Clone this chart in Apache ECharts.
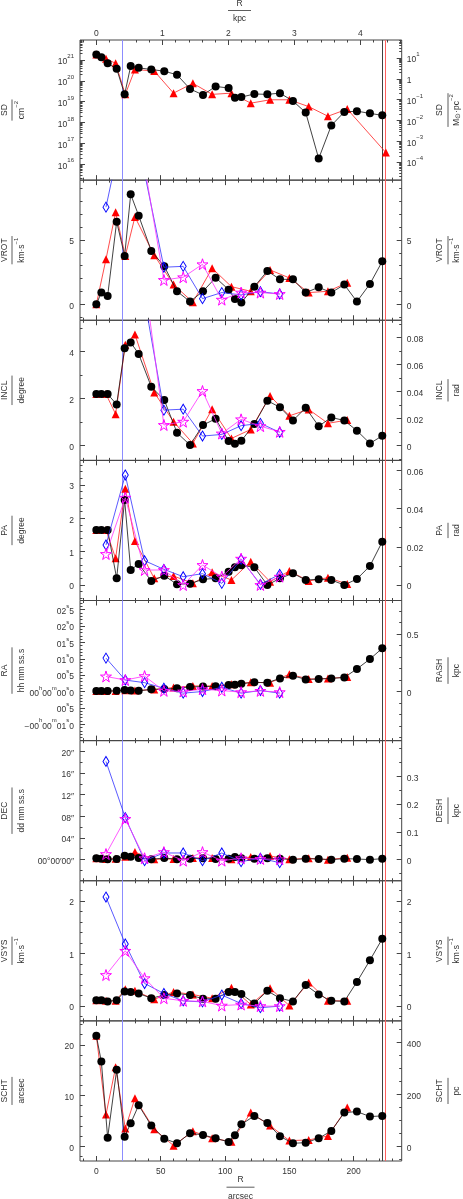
<!DOCTYPE html>
<html><head><meta charset="utf-8">
<script src="https://cdn.jsdelivr.net/npm/echarts@6/dist/echarts.min.js"></script>
<style>html,body{margin:0;padding:0;background:#fff}#c{width:463px;height:1199px}</style>
</head><body><div id="c"></div><script>
// ---------------- DATA ----------------
const blackR = [0,3.9,8.8,15.8,22,26.7,32.9,42.7,52.8,62.7,72.8,82.9,92.7,102.8,107.7,112.7,122.8,132.9,142.7,152.8,162.7,172.8,182.6,192.7,202.5,212.6,222.2];
const redR   = [0,7.5,15,22.5,30,45,60,75,90,105,120,135,150,165,180,195,225];
const ringR  = [7.5,22.5,37.5,52.5,67.5,82.5,97.5,112.5,127.5,142.5];
const markerR = [20.2, 222.2, 224.9];

const sdBlack = [1.86e21,1.35e21,6.9e20,3.8e20,2.24e19,5.1e20,4.2e20,3.5e20,2.9e20,1.95e20,4.1e19,2.1e19,5.4e19,4.5e19,1.55e19,1.66e19,2.34e19,2.24e19,2.57e19,1.07e19,3.0e18,1.86e16,7.2e17,3.2e18,3.5e18,2.75e18,2.2e18];
const sdRed   = [1.86e21,1.15e21,6.9e20,2.24e19,3.5e20,2.95e20,2.57e19,7.6e19,2.24e19,2.57e19,8.5e18,1.23e19,1.23e19,5.8e18,2.0e18,4.4e18,3.6e16];

const vrotBlack = [0,0.91,0.65,6.42,3.76,8.55,6.89,4.15,2.95,1.01,0.21,1.01,2.07,1.14,0.41,0.13,1.37,2.59,1.94,1.94,0.91,1.32,0.91,1.53,0.21,1.58,3.34];
const vrotRed   = [0,3.5,7.15,3.76,6.79,3.81,1.53,0.16,2.8,1.37,1.01,2.67,2.05,0.91,1.01,1.68,null];
const vrotBlue  = [7.55,14.6,10.2,2.88,2.95,0.44,0.91,0.73,0.98,0.8];
const vrotMag   = [13,16,10.7,1.89,2.1,3.11,0.36,0.91,0.91,0.8];

const inclBlack = [2.19,2.19,2.19,1.75,4.13,4.38,3.89,2.5,1.94,0.55,0.03,0.88,1.14,0.2,0.08,0.21,0.92,1.91,1.63,1.07,1.61,0.83,1.2,1.07,0.64,0.1,0.42];
const inclRed   = [2.19,2.19,1.34,4.28,4.72,2.26,1.02,0.1,1.55,0.31,0.69,2.11,1.27,1.54,0.95,1.09,null];
const inclBlue  = [8,9,6.2,1.51,1.55,0.41,0.48,0.85,0.95,0.57];
const inclMag   = [8,9,7.05,0.88,1.02,2.32,0.52,1.12,0.83,0.59];

const paBlack = [1.65,1.65,1.65,0.2,2.55,0.45,0.63,0.12,0.28,0.02,0.04,0.17,0.2,0.4,0.53,0.59,0.53,0,0.2,0.35,0.15,0.17,0.15,0,0.18,0.57,1.3];
const paRed   = [1.65,1.65,0.8,2.89,1.32,0.2,0.27,0.05,0.38,0.15,0.7,0.1,0.42,0.12,0.22,0.03,null];
const paBlue  = [1.2,3.3,0.73,0.47,0.25,0.34,0.05,0.77,0.02,0.32];
const paMag   = [0.93,2.62,0.45,0.45,0.0,0.6,0.25,0.79,0.0,0.25];

const raBlack = [0.015,0.015,0.015,0.02,0.046,0.03,0.02,0.066,0.076,0.097,0.14,0.15,0.16,0.2,0.21,0.24,0.28,0.27,0.4,0.48,0.37,0.38,0.4,0.43,0.69,0.99,1.32];
const raRed   = [0.015,0.015,0.015,0.04,0.03,0.06,0.12,0.17,0.17,0.22,0.28,0.27,0.53,0.38,0.4,0.44,null];
const raBlue  = [1.02,0.35,0.27,0.1,-0.05,0.0,0.13,-0.05,0.03,-0.05];
const raMag   = [0.46,0.35,0.47,0.02,0.0,0.07,0.03,-0.02,0.02,-0.02];

const decBlack = [0.22,0.15,0.03,0.09,0.71,0.52,0.28,0.03,0.28,0.03,0.15,0.22,0.09,0.15,0.46,0.22,0.15,0.22,0.15,-0.03,0.15,0.09,-0.03,0.15,0.09,-0.03,0.15];
const decRed   = [0.22,0.1,0.15,0.52,1.36,0.03,0.09,0.28,0.28,0.03,0.46,0.65,0.03,0.22,-0.03,0.34,null];
const decBlue  = [18.15,7.75,-0.22,1.2,1.2,-0.22,1.2,-0.4,0.22,-0.6];
const decMag   = [1.0,7.5,0.22,1.36,-0.22,1.36,-0.22,0.22,0.09,0.03];

const vsysBlack = [0.11,0.11,0.09,0.11,0.28,0.27,0.24,0.15,0.21,0.24,0.21,0.14,0.14,0.27,0.27,0.23,0.05,0.29,0.15,0.09,0.4,0.22,0.1,0.09,0.46,0.87,1.28];
const vsysRed   = [0.11,0.1,0.1,0.32,0.29,0.13,0.27,0.22,0.15,0.35,0.03,0.34,0.01,0.45,0.1,0.1,null];
const vsysBlue  = [2.07,1.18,0.43,0.24,0.1,0.08,0.21,0.05,-0.03,0];
const vsysMag   = [0.59,1.05,0.53,0.15,0.1,0.09,0.01,0.03,0,0];

const schtBlack = [21.78,16.7,1.7,15.07,1.9,4.54,8.09,4.08,1.51,0.59,2.57,2.24,1.58,0.86,2.17,4.34,5.99,4.6,1.97,0.59,0.72,1.58,3.03,6.64,6.84,5.86,5.99];
const schtRed   = [21.78,6.25,15.6,3.49,9.47,3.36,0.13,2.96,1.58,0.92,6.64,4.08,1.12,1.25,2.04,7.63,null];

// tick labels
const xTickArcsec = [0,50,100,150,200];
const xTickKpc = [0,1,2,3,4];

// ---------------- STYLE / LAYOUT ----------------
const FONT = '"Liberation Sans", Arial, Helvetica, sans-serif';
const FS = 8.5, FSS = 6;
const TC = '#333', AC = '#444';
const GL = 80, GR = 463 - 401.7, PT = 40, PH = 140.125, NP = 8;
const XMIN = -12.69, XMAX = 237.3, KPC = 51.3;
const RAD = Math.PI / 180;

function steps(a, b, st, skipEvery) {
  const out = [];
  const n0 = Math.ceil(a / st - 1e-9), n1 = Math.floor(b / st + 1e-9);
  for (let k = n0; k <= n1; k++) {
    const v = +(k * st).toFixed(6);
    if (skipEvery && Math.abs(v / skipEvery - Math.round(v / skipEvery)) < 1e-6) continue;
    out.push(v);
  }
  return out;
}
function logMinor(e0, e1, lo, hi) {
  const out = [];
  for (let e = e0; e <= e1; e++) for (let k = 2; k <= 9; k++) { const v = k * Math.pow(10, e); if (v >= lo && v <= hi) out.push(v); }
  return out;
}
function within(arr, lo, hi) { return arr.filter(v => v >= Math.min(lo, hi) && v <= Math.max(lo, hi)); }

const RICH_AX = {
  n: {fontSize: FS, fontFamily: FONT, color: TC, lineHeight: 13, verticalAlign: 'bottom'},
  s: {fontSize: FSS, fontFamily: FONT, color: TC, lineHeight: 6, verticalAlign: 'top'}
};
const RICH_G = {
  n: {fontSize: FS, fontFamily: FONT, fill: TC, lineHeight: 13, verticalAlign: 'bottom'},
  s: {fontSize: FSS, fontFamily: FONT, fill: TC, lineHeight: 6, verticalAlign: 'top'},
  b: {fontSize: FSS + 0.5, fontFamily: FONT, fill: TC, lineHeight: 7, verticalAlign: 'bottom'}
};
const pad2 = v => String(Math.round(Math.abs(v))).padStart(2, '0');
const plain = v => '{n|' + (Math.abs(v) < 1e-12 ? '0' : String(+v.toFixed(4))) + '}';
const sdL = v => '{n|10}{s|' + Math.round(Math.log10(v)) + '}';
const sdR = v => { const e = Math.round(Math.log10(v)); return e === 0 ? '{n|1}' : '{n|10}{s|' + (e < 0 ? '−' + (-e) : e) + '}'; };
const raL = v => {
  if (Math.abs(v) < 1e-9) return '{n|00}{s|h}{n|00}{s|m}{n|00}{s|s}{n|0}';
  if (Math.abs(v + 1) < 1e-9) return '{n|−00}{s|h}{n|00}{s|m}{n|01}{s|s}{n|0}';
  const a = Math.abs(v), sec = Math.floor(a + 1e-9), fr = Math.round((a - sec) * 10);
  return '{n|' + pad2(sec) + '}{s|s}{n|' + fr + '}';
};
const decL = v => Math.abs(v) < 1e-9 ? '{n|00°00′00″}' : '{n|' + pad2(v) + '″}';

const SDF = 1.25e20;
const panels = [
  {log: true, min: Math.pow(10, 15.234), max: Math.pow(10, 21.96), major: [1e16,1e17,1e18,1e19,1e20,1e21], minorFn: (lo,hi) => logMinor(14, 22, lo, hi), fmt: sdL,
   rf: 1 / SDF, rmajor: [1e-4,1e-3,1e-2,1e-1,1,10], rminorFn: (lo,hi) => logMinor(-6, 2, lo, hi), rfmt: sdR,
   sets: [[redR, sdRed, 'r'], [blackR, sdBlack, 'k']],
   t: ['SD', [['n','cm'],['s','−2']], 'SD', [['n','M'],['b','⊙'],['n','·pc'],['s','−2']]]},
  {min: -1.24, max: 9.65, major: [0,5], mstep: 1, rf: 1, rmajor: [0,5], rmstep: 1,
   sets: [[redR, vrotRed, 'r'], [blackR, vrotBlack, 'k'], [ringR, vrotBlue, 'b'], [ringR, vrotMag, 'm']],
   t: ['VROT', [['n','km·s'],['s','−1']], 'VROT', [['n','km·s'],['s','−1']]]},
  {min: -0.62, max: 5.32, major: [0,2,4], mstep: 1, rf: RAD, rmajor: [0,0.02,0.04,0.06,0.08], rmstep: 0.01,
   sets: [[redR, inclRed, 'r'], [blackR, inclBlack, 'k'], [ringR, inclBlue, 'b'], [ringR, inclMag, 'm']],
   t: ['INCL', [['n','degree']], 'INCL', [['n','rad']]]},
  {min: -0.465, max: 3.74, major: [0,1,2,3], mstep: 0.2, rf: RAD, rmajor: [0,0.02,0.04,0.06], rmstep: 0.01,
   sets: [[redR, paRed, 'r'], [blackR, paBlack, 'k'], [ringR, paBlue, 'b'], [ringR, paMag, 'm']],
   t: ['PA', [['n','degree']], 'PA', [['n','rad']]]},
  {min: -1.5, max: 2.78, major: [-1,-0.5,0,0.5,1,1.5,2,2.5], mstep: 0.1, fmt: raL, rf: 0.2843, rmajor: [0,0.5], rmstep: 0.1,
   sets: [[redR, raRed, 'r'], [blackR, raBlack, 'k'], [ringR, raBlue, 'b'], [ringR, raMag, 'm']],
   t: ['RA', [['n','hh mm ss.s']], 'RASH', [['n','kpc']]]},
  {min: -3.94, max: 22.0, major: [0,4,8,12,16,20], mstep: 2, fmt: decL, rf: 1 / KPC, rmajor: [0,0.1,0.2,0.3], rmstep: 0.05,
   sets: [[redR, decRed, 'r'], [blackR, decBlack, 'k'], [ringR, decBlue, 'b'], [ringR, decMag, 'm']],
   t: ['DEC', [['n','dd mm ss.s']], 'DESH', [['n','kpc']]]},
  {min: -0.28, max: 2.38, major: [0,1,2], mstep: 0.2, rf: 1, rmajor: [0,1,2], rmstep: 0.2,
   sets: [[redR, vsysRed, 'r'], [blackR, vsysBlack, 'k'], [ringR, vsysBlue, 'b'], [ringR, vsysMag, 'm']],
   t: ['VSYS', [['n','km·s'],['s','−1']], 'VSYS', [['n','km·s'],['s','−1']]]},
  {min: -2.9, max: 24.73, major: [0,10,20], mstep: 2, rf: 1000 / KPC, rmajor: [0,200,400], rmstep: 50,
   sets: [[redR, schtRed, 'r'], [blackR, schtBlack, 'k']],
   t: ['SCHT', [['n','arcsec']], 'SCHT', [['n','pc']]]}
];

const STAR = 'path://M50,2 L61,37 L98,37 L68,59 L79,95 L50,73 L21,95 L32,59 L2,37 L39,37 Z';
const STY = {
  k: {symbol: 'circle', symbolSize: 8, itemStyle: {color: '#000'}, lineStyle: {color: '#111', width: 0.8}, z: 4},
  r: {symbol: 'triangle', symbolSize: [8, 8], itemStyle: {color: '#ff0000'}, lineStyle: {color: '#ff2020', width: 0.8}, z: 3},
  b: {symbol: 'diamond', symbolSize: [6, 10], itemStyle: {color: 'rgba(255,255,255,0)', borderColor: '#0000ff', borderWidth: 1}, lineStyle: {color: '#3030ff', width: 0.8}, z: 5},
  m: {symbol: STAR, symbolSize: 11, itemStyle: {color: 'rgba(255,255,255,0)', borderColor: '#ff00ff', borderWidth: 1}, lineStyle: {color: '#ff30ff', width: 0.8}, z: 6}
};
const MARK_COL = ['#8c8cff', '#404040', '#ff6060'];

function xax(i, pos, min, max, vals, len, showLabel) {
  return {type: 'value', gridIndex: i, position: pos, min, max, silent: true,
    axisLine: {show: false, onZero: false}, splitLine: {show: false},
    axisTick: {show: true, inside: true, length: len, customValues: vals, lineStyle: {color: AC, width: 1}},
    axisLabel: {show: showLabel, customValues: vals, margin: pos === 'top' ? 1.5 : 2.5, formatter: plain, rich: RICH_AX, fontSize: FS, fontFamily: FONT, color: TC}};
}
function yax(i, pos, log, min, max, vals, len, showLabel, fmt) {
  return {type: log ? 'log' : 'value', logBase: 10, gridIndex: i, position: pos, min, max, silent: true,
    axisLine: {show: false, onZero: false}, splitLine: {show: false},
    axisTick: {show: true, inside: true, length: len, customValues: vals, lineStyle: {color: AC, width: 1}},
    axisLabel: {show: showLabel, customValues: vals, margin: pos === 'left' ? 6 : 5, formatter: fmt || plain, rich: RICH_AX, fontSize: FS, fontFamily: FONT, color: TC}};
}

const grids = [], xAxes = [], yAxes = [], series = [];
const xMinor = steps(-10, 230, 10, 50), kMinor = steps(-0.2, 4.6, 0.2, 1);
panels.forEach((p, i) => {
  grids.push({left: GL, right: GR, top: PT + i * PH, height: PH, show: true, borderColor: AC, borderWidth: 1, containLabel: false, outerBoundsMode: 'none'});
  xAxes.push(xax(i, 'bottom', XMIN, XMAX, xTickArcsec, 5, i === NP - 1));
  xAxes.push(xax(i, 'bottom', XMIN, XMAX, xMinor, 2.5, false));
  if (i === 0) {
    xAxes.push(xax(i, 'top', XMIN / KPC, XMAX / KPC, xTickKpc, 5, true));
    xAxes.push(xax(i, 'top', XMIN / KPC, XMAX / KPC, kMinor, 2.5, false));
  } else {
    xAxes.push(xax(i, 'top', XMIN, XMAX, xTickArcsec, 5, false));
    xAxes.push(xax(i, 'top', XMIN, XMAX, xMinor, 2.5, false));
  }
  const rmin = p.min * p.rf, rmax = p.max * p.rf;
  const lminor = p.log ? p.minorFn(p.min, p.max) : within(steps(p.min, p.max, p.mstep), p.min, p.max).filter(v => !p.major.some(m => Math.abs(m - v) < 1e-9));
  const rminor = p.log ? p.rminorFn(rmin, rmax) : within(steps(rmin, rmax, p.rmstep), rmin, rmax).filter(v => !p.rmajor.some(m => Math.abs(m - v) < 1e-9));
  yAxes.push(yax(i, 'left', p.log, p.min, p.max, p.major, 5, true, p.fmt));
  yAxes.push(yax(i, 'left', p.log, p.min, p.max, lminor, 2.5, false));
  yAxes.push(yax(i, 'right', p.log, rmin, rmax, p.rmajor, 5, true, p.rfmt));
  yAxes.push(yax(i, 'right', p.log, rmin, rmax, rminor, 2.5, false));
  p.sets.forEach(([xs, ys, k]) => {
    const s = Object.assign({type: 'line', xAxisIndex: 4 * i, yAxisIndex: 4 * i, animation: false, silent: true, clip: true,
      emphasis: {disabled: true}, showSymbol: true,
      data: xs.map((x, j) => [x, ys[j] == null ? '-' : ys[j]])}, JSON.parse(JSON.stringify(STY[k])));
    if (k === 'k') {
      s.markLine = {silent: true, symbol: ['none', 'none'], label: {show: false}, animation: false, z: 1,
        data: markerR.map((r, j) => ({xAxis: r, lineStyle: {color: MARK_COL[j], width: 1, type: 'solid'}}))};
    }
    series.push(s);
  });
});

// ---------------- TITLES ----------------
const cvs = document.createElement('canvas').getContext('2d');
function tw(t, fs) { cvs.font = fs + 'px ' + FONT; return cvs.measureText(t).width; }
function rich(pieces) {
  let t = '', w = 0;
  pieces.forEach(([k, s]) => { t += '{' + k + '|' + s + '}'; w += tw(s, k === 'n' ? FS : FSS); });
  return {t, w};
}
function frac(cx, cy, rot, num, den, dN, dD, barLen) {
  const d = rich(den), nW = tw(num, FS);
  const L = barLen || Math.max(nW, d.w) + 3;
  return {type: 'group', x: cx, y: cy, rotation: rot, silent: true, children: [
    {type: 'text', x: 0, y: -dN, style: {text: num, fill: TC, fontSize: FS, fontFamily: FONT, align: 'center', verticalAlign: 'middle', textAlign: 'center', textVerticalAlign: 'middle'}},
    {type: 'line', shape: {x1: -L / 2, y1: 0, x2: L / 2, y2: 0}, style: {stroke: TC, lineWidth: 0.8}},
    {type: 'text', x: 0, y: dD, style: {text: d.t, rich: RICH_G, fill: TC, fontSize: FS, fontFamily: FONT, align: 'center', verticalAlign: 'middle', textAlign: 'center', textVerticalAlign: 'middle'}}
  ]};
}
const graphics = [];
panels.forEach((p, i) => {
  const cy = PT + PH * (i + 0.5);
  graphics.push(frac(12, cy, Math.PI / 2, p.t[0], p.t[1], 7, 8));
  graphics.push(frac(448, cy, Math.PI / 2, p.t[2], p.t[3], 8, 7));
});
graphics.push(frac(239.5, 10.5, 0, 'R', [['n', 'kpc']], 7.2, 6.2, 23));
graphics.push(frac(240.5, 1187.2, 0, 'R', [['n', 'arcsec']], 7.5, 7, 28));

const chart = echarts.init(document.getElementById('c'), null, {renderer: 'canvas'});
chart.setOption({
  animation: false, backgroundColor: '#fff',
  grid: grids, xAxis: xAxes, yAxis: yAxes, series: series, graphic: graphics
});
</script></body></html>
